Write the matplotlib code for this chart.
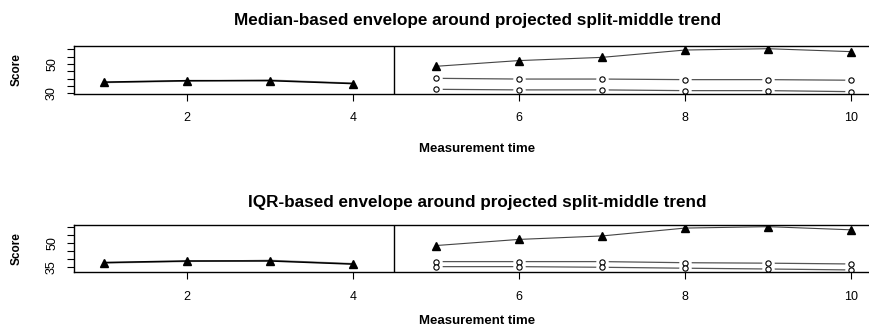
import matplotlib
matplotlib.use("Agg")
import matplotlib.pyplot as plt

plt.rcParams['font.family'] = ['Liberation Sans', 'DejaVu Sans']

# Data
time_a = [1, 2, 3, 4]
time_b = [5, 6, 7, 8, 9, 10]
score_a = [37.6, 38.6, 38.6, 36.6]
score_b = [48.4, 52.3, 54.5, 59.5, 60.4, 58.4]
trend_a = [37.3, 38.3, 39.0, 36.9]

median_upper = [40.2, 39.7, 39.7, 39.3, 39.3, 38.9]
median_lower = [32.7, 32.3, 32.3, 31.8, 31.8, 31.1]
iqr_upper = [38.2, 38.2, 38.2, 37.5, 37.2, 36.7]
iqr_lower = [35.0, 35.0, 34.6, 34.0, 33.5, 32.9]

titles = ["Median-based envelope around projected split-middle trend",
          "IQR-based envelope around projected split-middle trend"]
xlab = "Measurement time"
ylab = "Score"
x_ticks = [2, 4, 6, 8, 10]
y_ticks_top = [30, 35, 40, 45, 50, 55, 60]
y_labels_top = ["30", "", "", "", "50", "", ""]
y_ticks_bot = [35, 40, 45, 50, 55, 60]
y_labels_bot = ["35", "", "", "50", "", ""]

fig = plt.figure(figsize=(8.7, 3.26), dpi=100)
W, H = 870, 326

def make_ax(top_px, bot_px):
    left, right = 74, 881
    return fig.add_axes([left / W, 1 - bot_px / H, (right - left) / W, (bot_px - top_px) / H])

panels = [
    (make_ax(46, 94), (29.5, 62.25), y_ticks_top, y_labels_top, median_upper, median_lower, titles[0], 15, 13),
    (make_ax(224.7, 272.3), (31.4, 61.65), y_ticks_bot, y_labels_bot, iqr_upper, iqr_lower, titles[1], 13, 9),
]

for ax, ylim, yt, yl, up, lo, title, tpad, xpad in panels:
    ax.set_xlim(0.64, 10.36)
    ax.set_ylim(*ylim)
    # phase A
    ax.plot(time_a, trend_a, color="#888888", lw=1.0, zorder=2)
    ax.plot(time_a, score_a, color="black", lw=1.1, zorder=3)
    ax.plot(time_a, score_a, linestyle="none", marker="^", ms=5.5, color="black", zorder=4)
    # phase B data
    ax.plot(time_b, score_b, color="#444444", lw=0.8, zorder=3)
    ax.plot(time_b, score_b, linestyle="none", marker="^", ms=5.5, color="black", zorder=4)
    # envelope lines (type "b")
    for series in (up, lo):
        ax.plot(time_b, series, color="#555555", lw=0.9, zorder=2)
        ax.plot(time_b, series, linestyle="none", marker="o", ms=9, mfc="white", mec="none", zorder=3)
        ax.plot(time_b, series, linestyle="none", marker="o", ms=3.8, mfc="white", mec="black", mew=0.8, zorder=4)
    ax.axvline(4.5, color="black", lw=1.0, zorder=1)
    ax.set_xticks(x_ticks)
    ax.set_xticklabels([str(t) for t in x_ticks], fontsize=9)
    ax.set_yticks(yt)
    ax.set_yticklabels(yl, fontsize=9, rotation=90, va="center")
    ax.tick_params(axis="x", length=5, pad=8.3, width=0.8)
    ax.tick_params(axis="y", length=5, pad=6.5, width=0.8)
    for s in ax.spines.values():
        s.set_linewidth(1.0)
        s.set_zorder(6)
    ax.set_title(title, fontsize=12.3, fontweight="bold", pad=tpad)
    ax.set_xlabel(xlab, fontsize=9.5, fontweight="bold", labelpad=xpad)
    ax.set_ylabel(ylab, fontsize=8.5, fontweight="bold", labelpad=17)

fig.savefig("out.png", dpi=100)
